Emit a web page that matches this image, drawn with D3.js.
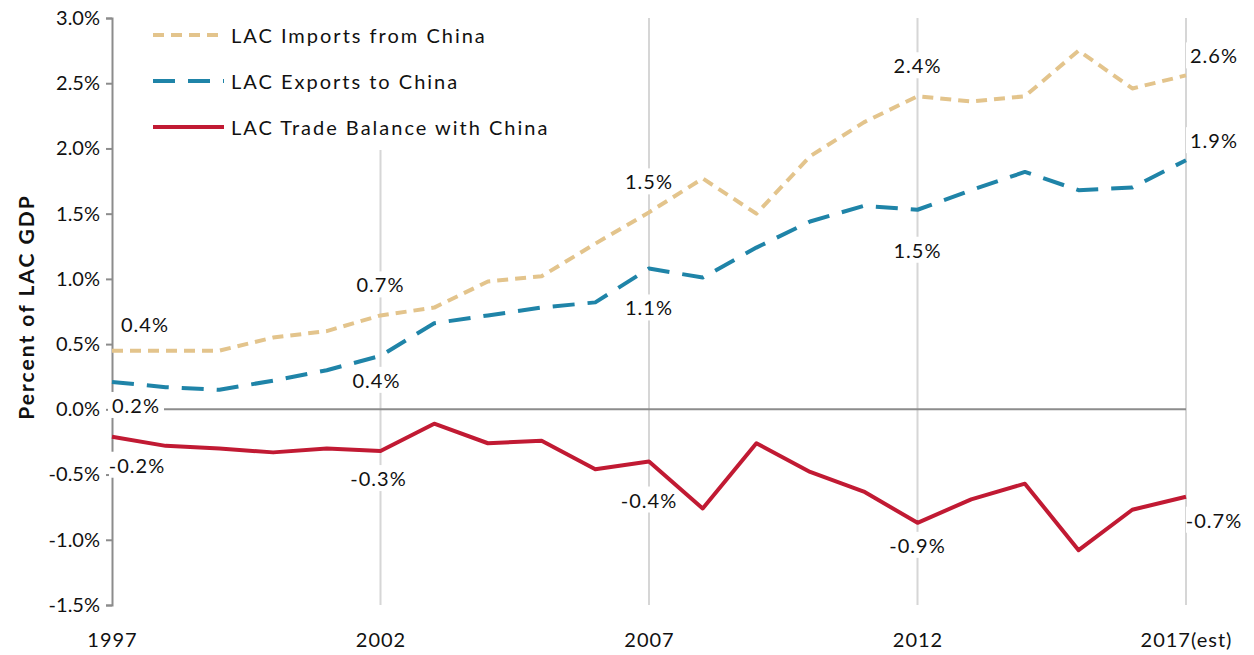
<!DOCTYPE html>
<html>
<head>
<meta charset="utf-8">
<script src="https://d3js.org/d3.v7.min.js"></script>
<style>
  body { margin: 0; background: #fff; }
  svg text { font-family: Lato, "Open Sans", sans-serif; fill: #111; }
</style>
</head>
<body>
<svg width="1254" height="655"></svg>
<script>

var years = d3.range(1997, 2018);
var imports = [0.45, 0.45, 0.45, 0.55, 0.60, 0.72, 0.78, 0.98, 1.02, 1.27, 1.51, 1.77, 1.50, 1.94, 2.20, 2.40, 2.36, 2.40, 2.75, 2.46, 2.56];
var exports = [0.21, 0.17, 0.15, 0.22, 0.30, 0.41, 0.66, 0.72, 0.78, 0.82, 1.08, 1.01, 1.24, 1.44, 1.56, 1.53, 1.68, 1.82, 1.68, 1.70, 1.91];
var balance = [-0.21, -0.28, -0.30, -0.33, -0.30, -0.32, -0.11, -0.26, -0.24, -0.46, -0.40, -0.76, -0.26, -0.48, -0.63, -0.87, -0.69, -0.57, -1.08, -0.77, -0.67];

var labelYears = [1997, 2002, 2007, 2012, 2017];
var importLabels = ["0.4%", "0.7%", "1.5%", "2.4%", "2.6%"];
var exportLabels = ["0.2%", "0.4%", "1.1%", "1.5%", "1.9%"];
var balanceLabels = ["-0.2%", "-0.3%", "-0.4%", "-0.9%", "-0.7%"];

var yTicks = [-1.5, -1.0, -0.5, 0, 0.5, 1.0, 1.5, 2.0, 2.5, 3.0];
var xTickYears = [1997, 2002, 2007, 2012, 2017];
var xTickLabels = ["1997", "2002", "2007", "2012", "2017(est)"];

var svg = d3.select("svg");

var x = d3.scaleLinear().domain([1997, 2017]).range([112, 1186]);
var y = d3.scaleLinear().domain([-1.5, 3.0]).range([605, 18]);

// vertical gridlines
svg.append("g").selectAll("line")
  .data([2002, 2007, 2012, 2017])
  .enter().append("line")
    .attr("x1", d => x(d)).attr("x2", d => x(d))
    .attr("y1", y(3.0)).attr("y2", y(-1.5))
    .attr("stroke", "#d6d6d6").attr("stroke-width", 2);

// y axis
var yAxis = d3.axisLeft(y)
  .tickValues(yTicks)
  .tickSize(6)
  .tickPadding(6)
  .tickFormat(d => d.toFixed(1) + "%");

var ya = svg.append("g")
  .attr("transform", "translate(" + x(1997) + ",0)")
  .call(yAxis);
ya.select(".domain").attr("stroke", "#8c8c8c").attr("stroke-width", 2);
ya.selectAll(".tick line").attr("stroke", "#8c8c8c").attr("stroke-width", 2);
ya.selectAll(".tick text").style("font-size", "20px").attr("fill", "#111");

// x axis (labels only)
var xAxis = d3.axisBottom(x)
  .tickValues(xTickYears)
  .tickSize(0)
  .tickPadding(28)
  .tickFormat((d, i) => xTickLabels[i]);

var xa = svg.append("g")
  .attr("transform", "translate(0," + y(-1.5) + ")")
  .call(xAxis);
xa.select(".domain").remove();
xa.selectAll(".tick text").style("font-size", "20px").style("letter-spacing", "1px").attr("fill", "#111");

// zero line
svg.append("line")
  .attr("x1", x(1997)).attr("x2", x(2017))
  .attr("y1", y(0)).attr("y2", y(0))
  .attr("stroke", "#8c8c8c").attr("stroke-width", 2);

var series = [
  { name: "LAC Imports from China", values: imports, labels: importLabels, color: "#e3c48c", dash: "11,7",
    off: [[33, -27], [0, -31], [0, -31], [0, -31], [28, -20]] },
  { name: "LAC Exports to China", values: exports, labels: exportLabels, color: "#1f84a8", dash: "22,13",
    off: [[24, 23], [-4, 24], [0, 39], [0, 40], [28, -20]] },
  { name: "LAC Trade Balance with China", values: balance, labels: balanceLabels, color: "#c11a33", dash: null,
    off: [[25, 28], [-2, 27], [0, 38], [0, 22], [28, 23]] }
];

// label backgrounds (hide gridlines behind data labels)
series.forEach(function(s) {
  labelYears.forEach(function(yr, i) {
    var v = s.values[years.indexOf(yr)];
    svg.append("rect")
      .attr("x", x(yr) + s.off[i][0] - 28)
      .attr("y", y(v) + s.off[i][1] - 13)
      .attr("width", 56).attr("height", 26)
      .attr("fill", "#fff");
  });
});

var line = d3.line()
  .x((d, i) => x(years[i]))
  .y(d => y(d));

series.forEach(function(s) {
  svg.append("path")
    .datum(s.values)
    .attr("d", line)
    .attr("fill", "none")
    .attr("stroke", s.color)
    .attr("stroke-width", 4)
    .attr("stroke-dasharray", s.dash)
    .attr("stroke-linejoin", "round");
});

// data labels
series.forEach(function(s) {
  labelYears.forEach(function(yr, i) {
    var v = s.values[years.indexOf(yr)];
    svg.append("text")
      .attr("x", x(yr) + s.off[i][0])
      .attr("y", y(v) + s.off[i][1])
      .attr("text-anchor", "middle")
      .attr("dominant-baseline", "central")
      .style("font-size", "20px")
      .style("letter-spacing", "1px")
      .text(s.labels[i]);
  });
});

// legend
var legend = svg.append("g");
legend.append("rect")
  .attr("x", 140).attr("y", 14).attr("width", 430).attr("height", 136)
  .attr("fill", "#fff");
series.forEach(function(s, i) {
  var ly = 35 + i * 46;
  legend.append("line")
    .attr("x1", 153).attr("x2", 224)
    .attr("y1", ly).attr("y2", ly)
    .attr("stroke", s.color).attr("stroke-width", 4)
    .attr("stroke-dasharray", s.dash);
  legend.append("text")
    .attr("x", 231).attr("y", ly)
    .attr("dominant-baseline", "central")
    .style("font-size", "20px")
    .style("letter-spacing", "2px")
    .text(s.name);
});

// y axis title
svg.append("text")
  .attr("transform", "translate(25,307) rotate(-90)")
  .attr("text-anchor", "middle")
  .attr("dominant-baseline", "central")
  .style("font-size", "21px")
  .style("font-weight", "bold")
  .style("letter-spacing", "2px")
  .text("Percent of LAC GDP");

</script>
</body>
</html>
